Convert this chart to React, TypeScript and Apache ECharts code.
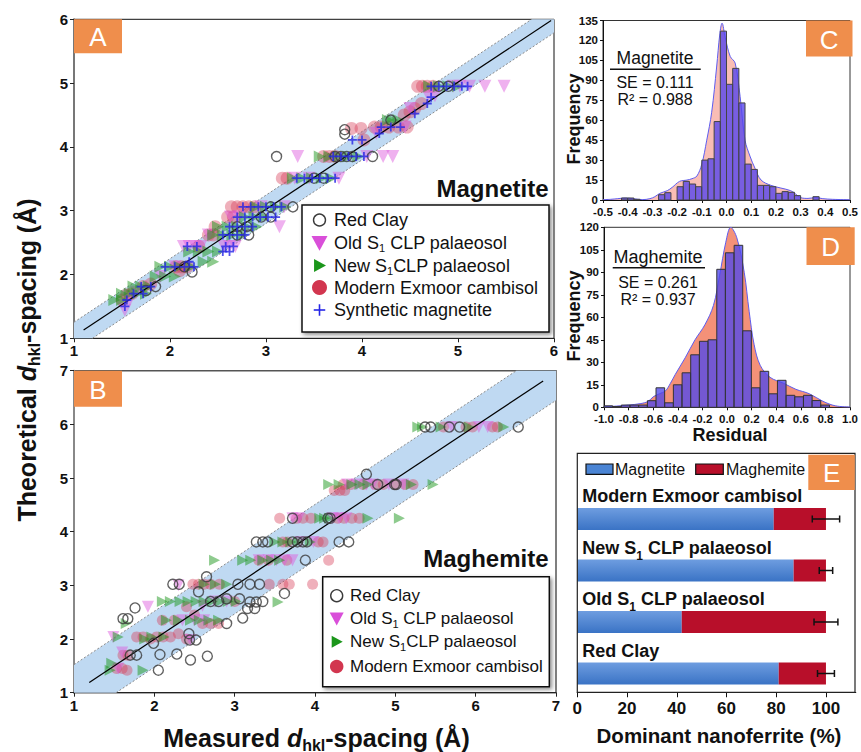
import { useEffect, useRef } from 'react';
import * as echarts from 'echarts';

const FONT = '"Liberation Sans", Arial, Helvetica, sans-serif';

// ---------- Panel A: magnetite, theoretical vs measured d-spacing (Å) ----------
const magModern: number[][] = [
  [4.58, 4.95], [4.63, 4.95], [4.68, 4.95], [4.74, 4.95], [4.62, 4.68], [4.55, 4.6], [4.44, 4.5], [4.5, 4.55],
  [4.13, 4.31], [4.2, 4.31], [4.28, 4.31], [4.38, 4.31], [4.47, 4.31], [3.89, 4.29], [3.99, 4.29], [4.02, 4.11],
  [3.6, 3.85], [3.66, 3.85], [3.72, 3.85], [3.17, 3.51], [3.22, 3.51], [2.64, 3.06], [2.7, 3.06], [2.76, 3.06],
  [2.82, 3.06], [2.88, 3.06], [2.6, 2.9], [2.66, 2.9], [2.47, 2.75], [2.4, 2.62], [2.45, 2.62], [2.3, 2.44],
  [2.06, 2.12], [2.12, 2.12], [2.18, 2.12], [2.1, 2.06], [1.72, 1.81], [1.8, 1.85], [1.55, 1.68], [1.6, 1.7], [1.5, 1.6],
];
const magOldS1: number[][] = [
  [4.95, 4.95], [5.02, 4.95], [5.12, 4.95], [5.28, 4.95], [5.48, 4.95], [4.69, 4.8], [4.76, 4.8], [4.5, 4.6],
  [4.15, 4.21], [4.45, 4.31], [3.33, 3.85], [4.05, 3.85], [4.22, 3.85], [4.32, 3.85], [3.3, 3.51], [3.45, 3.51],
  [3.76, 3.51], [2.95, 3.06], [3.19, 3.06], [2.63, 2.9], [2.72, 2.9], [3.14, 2.75], [2.14, 2.44], [2.2, 2.44],
  [2.26, 2.44], [2.32, 2.44], [2.56, 2.44], [2.62, 2.44], [2.68, 2.44], [2.4, 2.62], [1.9, 1.97], [2.05, 2.12],
  [1.65, 1.72], [1.58, 1.6], [1.53, 1.44],
];
const magNewS1: number[][] = [
  [4.7, 4.95], [4.8, 4.95], [4.9, 4.95], [5.0, 4.95], [4.27, 4.42], [4.32, 4.42], [4.38, 4.42], [3.56, 3.85],
  [3.66, 3.85], [3.76, 3.85], [3.86, 3.85], [3.96, 3.85], [3.28, 3.51], [3.38, 3.51], [3.48, 3.51], [3.58, 3.51],
  [3.68, 3.51], [2.9, 3.06], [3.0, 3.06], [3.1, 3.06], [3.2, 3.06], [2.78, 2.9], [2.88, 2.9], [2.98, 2.9],
  [2.5, 2.75], [2.6, 2.75], [2.7, 2.75], [2.8, 2.75], [2.9, 2.75], [2.45, 2.62], [2.55, 2.62], [2.65, 2.62],
  [2.75, 2.62], [2.2, 2.36], [2.3, 2.36], [2.4, 2.36], [2.5, 2.36], [2.35, 2.2], [2.45, 2.2], [1.9, 2.12],
  [2.0, 2.12], [2.1, 2.12], [2.22, 2.12], [1.85, 1.97], [1.95, 1.97], [2.05, 1.97], [1.62, 1.81], [1.7, 1.81],
  [1.78, 1.81], [1.5, 1.7], [1.58, 1.7], [1.66, 1.7], [1.75, 1.7], [1.42, 1.6], [1.5, 1.6],
];
const magRedClay: number[][] = [
  [3.11, 3.85], [3.82, 4.27], [3.82, 4.2], [4.11, 3.85], [3.72, 3.85], [3.78, 3.85], [3.84, 3.85], [3.9, 3.85],
  [3.28, 3.06], [3.05, 3.06], [2.95, 2.9], [3.05, 2.9], [2.7, 2.75], [2.8, 2.75], [2.82, 2.62], [2.7, 2.62],
  [2.23, 2.04], [2.15, 2.12], [1.75, 1.75], [1.85, 1.81], [4.8, 4.95], [4.9, 4.95], [4.3, 4.42], [3.5, 3.51], [3.6, 3.51],
];
const magSynthetic: number[][] = [
  [4.72, 4.95], [4.8, 4.95], [4.88, 4.95], [4.96, 4.95], [5.04, 4.95], [5.1, 4.95], [4.72, 4.78], [4.68, 4.68],
  [4.55, 4.52], [4.2, 4.31], [4.3, 4.31], [4.4, 4.31], [4.18, 4.21], [3.9, 4.11], [4.0, 4.11], [3.7, 3.85],
  [3.78, 3.85], [3.86, 3.85], [3.94, 3.85], [4.02, 3.85], [3.32, 3.51], [3.4, 3.51], [3.48, 3.51], [3.56, 3.51],
  [3.64, 3.51], [3.72, 3.51], [2.76, 3.06], [2.84, 3.06], [2.92, 3.06], [3.0, 3.06], [3.08, 3.06], [3.16, 3.06],
  [2.7, 2.9], [2.78, 2.9], [2.86, 2.9], [2.94, 2.9], [3.02, 2.9], [3.1, 2.9], [2.62, 2.75], [2.7, 2.75],
  [2.78, 2.75], [2.86, 2.75], [2.55, 2.62], [2.62, 2.62], [2.7, 2.62], [2.78, 2.62], [2.18, 2.44], [2.28, 2.44],
  [2.58, 2.44], [2.66, 2.44], [2.55, 2.36], [2.62, 2.36], [1.95, 2.12], [2.05, 2.12], [2.15, 2.12], [2.25, 2.12],
  [2.2, 2.2], [1.7, 1.81], [1.8, 1.81], [1.62, 1.7], [1.72, 1.7], [1.55, 1.6], [1.53, 1.5],
];
const fitA = [[1.1, 1.13], [5.97, 5.98]];
const seA = 0.111;
const r2A = 0.988;

// ---------- Panel B: maghemite ----------
const maghModern: number[][] = [
  [1.53, 1.45], [1.6, 1.45], [1.66, 1.42], [1.61, 1.7], [1.67, 1.7], [1.78, 2.04], [1.86, 2.04], [1.95, 2.0],
  [2.03, 2.04], [2.11, 2.04], [2.2, 2.04], [2.3, 2.1], [2.4, 2.0], [2.1, 2.35], [2.25, 2.35], [2.6, 2.29],
  [2.7, 2.29], [2.8, 2.29], [2.5, 2.45], [2.4, 2.6], [2.48, 3.02], [2.55, 3.02], [2.62, 3.02], [2.7, 3.02],
  [2.81, 3.02], [3.0, 2.7], [3.43, 3.02], [3.6, 3.02], [3.68, 3.02], [3.97, 3.02], [3.3, 3.47], [3.42, 3.47],
  [3.65, 3.47], [4.17, 3.47], [3.6, 3.81], [3.66, 3.81], [4.04, 3.81], [4.1, 3.81], [3.56, 4.25], [3.77, 4.25],
  [3.85, 4.25], [3.95, 4.25], [4.28, 4.25], [4.36, 4.25], [4.46, 4.25], [4.55, 4.25], [4.24, 4.77], [4.31, 4.77],
  [4.37, 4.77], [4.35, 4.88], [4.45, 4.88], [4.6, 4.88], [4.75, 4.88], [4.85, 4.88], [5.0, 4.88], [5.12, 4.88],
  [5.22, 4.88], [5.6, 5.95], [5.88, 5.95], [5.96, 5.95], [6.21, 5.95], [6.27, 5.95],
];
const maghOldS1: number[][] = [
  [1.49, 2.04], [1.55, 1.45], [1.6, 1.75], [1.92, 2.6], [2.45, 1.98], [2.35, 2.35], [2.5, 2.35], [2.62, 2.35],
  [2.3, 3.0], [2.75, 2.7], [2.9, 2.7], [2.6, 2.62], [3.3, 3.47], [3.42, 3.47], [3.52, 3.47], [3.62, 3.47],
  [3.72, 3.47], [3.82, 3.81], [3.98, 3.81], [3.72, 4.25], [3.8, 4.25], [4.22, 4.25], [4.3, 4.25], [4.39, 4.25],
  [4.4, 4.88], [4.52, 4.88], [4.64, 4.88], [4.72, 4.88], [4.92, 4.88], [5.1, 4.88], [5.7, 5.95], [6.04, 5.95], [6.15, 5.95],
];
const maghNewS1: number[][] = [
  [1.45, 1.42], [1.47, 1.55], [1.86, 1.42], [1.55, 2.04], [1.65, 2.29], [1.88, 2.0], [1.97, 2.04], [2.12, 2.04],
  [2.1, 2.7], [2.2, 2.7], [2.32, 2.7], [2.42, 2.7], [2.52, 2.7], [2.62, 2.7], [2.72, 2.7], [2.82, 2.7],
  [2.92, 2.7], [3.02, 2.7], [3.54, 2.69], [2.15, 2.35], [2.3, 2.35], [2.45, 2.35], [2.56, 2.35], [2.68, 2.35],
  [2.8, 2.35], [2.62, 3.02], [2.76, 3.02], [2.9, 3.02], [2.75, 3.47], [3.1, 3.47], [3.2, 3.47], [3.35, 3.47],
  [3.46, 3.47], [3.56, 3.47], [3.5, 3.81], [3.6, 3.81], [3.7, 3.81], [3.8, 3.81], [3.94, 3.81], [4.06, 4.25],
  [4.12, 4.25], [4.18, 4.25], [4.66, 4.25], [5.05, 4.25], [4.17, 4.88], [4.3, 4.88], [4.46, 4.88], [4.56, 4.88],
  [4.66, 4.88], [5.2, 4.88], [5.47, 4.88], [5.28, 5.95], [5.34, 5.95], [5.57, 5.95], [5.92, 5.95], [6.35, 5.95],
];
const maghRedClay: number[][] = [
  [1.61, 2.38], [1.67, 2.38], [1.76, 2.58], [1.7, 1.7], [1.78, 1.7], [2.07, 1.71], [2.28, 1.72], [2.45, 1.61],
  [2.66, 1.68], [2.05, 1.42], [1.99, 1.92], [2.44, 1.98], [2.52, 1.98], [2.43, 2.1], [2.23, 3.02], [2.31, 3.02],
  [2.65, 3.16], [2.9, 2.29], [3.1, 2.39], [3.16, 2.57], [3.25, 2.57], [3.06, 2.75], [3.35, 2.7], [3.04, 3.02],
  [3.19, 3.02], [3.31, 3.02], [3.62, 2.85], [2.55, 2.88], [2.7, 2.7], [2.8, 2.7], [2.9, 2.75], [3.19, 2.69],
  [3.27, 2.69], [3.27, 3.81], [3.35, 3.81], [3.41, 3.81], [3.72, 3.81], [3.78, 3.81], [3.85, 3.81], [3.9, 3.81],
  [4.3, 3.81], [4.42, 3.81], [3.88, 3.47], [3.72, 4.25], [4.16, 4.25], [4.19, 4.25], [4.64, 5.07], [4.78, 4.88],
  [4.99, 4.88], [5.01, 4.88], [5.37, 5.95], [5.44, 5.95], [5.67, 5.95], [5.8, 5.95], [6.53, 5.95],
];
const fitB = [[1.19, 1.19], [6.84, 6.81]];
const seB = 0.261;
const r2B = 0.937;

// ---------- Panel C: magnetite residual histogram (bin width 0.025) ----------
const magResBins = [
  -0.4125, -0.3875, -0.3625, -0.2625, -0.2375, -0.1875, -0.1625, -0.1375, -0.1125, -0.0875, -0.0625, -0.0375,
  -0.0125, 0.0125, 0.0375, 0.0625, 0.0875, 0.1125, 0.1375, 0.1625, 0.1875, 0.2125, 0.2375, 0.2625, 0.2875, 0.3625,
];
const magResCounts = [
  1.5, 1.5, 0.5, 4, 5.5, 10, 14, 12, 10, 30, 31, 59,
  127, 87, 99, 73, 27, 23, 11, 11, 10, 5, 6.3, 5.8, 3.3, 2.5,
];
const magResDensity: number[][] = [
  [-0.5, 0.3], [-0.47, 0.5], [-0.44, 1], [-0.41, 1.5], [-0.38, 1], [-0.34, 0.3], [-0.31, 1], [-0.29, 2.5],
  [-0.27, 5], [-0.24, 7], [-0.22, 9.5], [-0.19, 14], [-0.16, 15], [-0.14, 16], [-0.12, 18], [-0.1, 27],
  [-0.08, 45], [-0.06, 66], [-0.04, 100], [-0.027, 125], [-0.018, 133], [-0.005, 122], [0.015, 108], [0.035, 103],
  [0.055, 78], [0.075, 45], [0.095, 33], [0.115, 24], [0.14, 15], [0.18, 11], [0.22, 9], [0.26, 7],
  [0.28, 4.5], [0.3, 1.8], [0.33, 1.2], [0.36, 1.8], [0.39, 1], [0.43, 0.5], [0.5, 0.2],
];

// ---------- Panel D: maghemite residual histogram (bin width 0.07) ----------
const maghResBins = [
  -0.965, -0.894, -0.824, -0.753, -0.683, -0.612, -0.542, -0.471, -0.401, -0.33, -0.26, -0.189, -0.119,
  -0.048, 0.022, 0.093, 0.163, 0.234, 0.304, 0.375, 0.445, 0.516, 0.586, 0.657, 0.727, 0.798,
];
const maghResCounts = [
  1, 0.5, 1.5, 1.5, 1.5, 4.4, 13, 3, 15, 23, 35, 44, 45,
  92, 103, 108, 51, 13, 24, 9, 18, 8, 7, 8, 4.5, 1.5,
];
const maghResDensity: number[][] = [
  [-1.0, 0.3], [-0.9, 0.8], [-0.8, 1.5], [-0.7, 2.5], [-0.64, 4], [-0.6, 7], [-0.55, 9], [-0.5, 11],
  [-0.46, 16], [-0.42, 22], [-0.34, 33], [-0.26, 45], [-0.18, 55], [-0.11, 68], [-0.06, 88], [-0.01, 110],
  [0.03, 120], [0.08, 113], [0.14, 90], [0.18, 64], [0.22, 42], [0.27, 28], [0.35, 20], [0.46, 16],
  [0.56, 12], [0.67, 9], [0.78, 4], [0.88, 1], [1.0, 0.2],
];

// ---------- Panel E: dominant nanoferrite per soil ----------
const soils = ['Modern Exmoor cambisol', 'New S1 CLP palaeosol', 'Old S1 CLP palaeosol', 'Red Clay'];
const soilLabels = ['Modern Exmoor cambisol', 'New S{s|1} CLP palaeosol', 'Old S{s|1} CLP palaeosol', 'Red Clay'];
const magnetitePct = [79, 87, 42, 81];
const maghemitePct = [21, 13, 58, 19];
const pctError = [5.5, 2.7, 4.8, 3.4];
const pctTicks = [0, 20, 40, 60, 80, 100];

// legend wording (rich text, S1 with subscript)
const legendA = ['Red Clay', 'Old S{s|1} CLP palaeosol', 'New S{s|1}CLP palaeosol', 'Modern Exmoor cambisol', 'Synthetic magnetite'];
const legendB = ['Red Clay', 'Old S{s|1} CLP palaeosol', 'New S{s|1}CLP palaeosol', 'Modern Exmoor cambisol'];

const C = {
  red: 'rgba(214,58,84,0.5)',
  redSolid: '#d2364f',
  magenta: 'rgba(222,92,222,0.6)',
  magentaSolid: '#d94fd9',
  green: 'rgba(26,150,26,0.62)',
  greenSolid: '#1b961b',
  clay: '#3a3a3a',
  blue: '#2626e6',
  band: '#bfd9f2',
  orange: '#ef8e4c',
};
const PLUS = 'path://M4,0H6V4H10V6H6V10H4V6H0V4H4Z';

type Rect = { x: number; y: number; width: number; height: number };

function clipPolygon(points: number[][], r: Rect) {
  const planes = [
    [1, 0, -r.x], [-1, 0, r.x + r.width], [0, 1, -r.y], [0, -1, r.y + r.height],
  ];
  let out = points;
  for (const [a, b, c] of planes) {
    const input = out;
    out = [];
    for (let i = 0; i < input.length; i++) {
      const p = input[i];
      const q = input[(i + 1) % input.length];
      const dp = a * p[0] + b * p[1] + c;
      const dq = a * q[0] + b * q[1] + c;
      if (dp >= 0) out.push(p);
      if ((dp >= 0) !== (dq >= 0)) {
        const t = dp / (dp - dq);
        out.push([p[0] + t * (q[0] - p[0]), p[1] + t * (q[1] - p[1])]);
      }
    }
  }
  return out;
}

function clipSegment(p: number[], q: number[], r: Rect) {
  let t0 = 0;
  let t1 = 1;
  const dx = q[0] - p[0];
  const dy = q[1] - p[1];
  const checks = [
    [-dx, p[0] - r.x], [dx, r.x + r.width - p[0]], [-dy, p[1] - r.y], [dy, r.y + r.height - p[1]],
  ];
  for (const [pp, qq] of checks) {
    if (pp === 0) {
      if (qq < 0) return null;
    } else {
      const t = qq / pp;
      if (pp < 0) t0 = Math.max(t0, t);
      else t1 = Math.min(t1, t);
    }
  }
  if (t0 > t1) return null;
  return [[p[0] + t0 * dx, p[1] + t0 * dy], [p[0] + t1 * dx, p[1] + t1 * dy]];
}

// ±2·SE prediction band around the fitted line
function bandSeries(axis: number, fit: number[][], se: number, xr: number[]) {
  const [[x1, y1], [x2, y2]] = fit;
  const m = (y2 - y1) / (x2 - x1);
  const c = y1 - m * x1;
  const h = 2 * se;
  return {
    type: 'custom',
    xAxisIndex: axis,
    yAxisIndex: axis,
    z: 1,
    silent: true,
    data: [[xr[0], m * xr[0] + c]],
    renderItem: (params: any, api: any) => {
      const cs = params.coordSys;
      const rect = { x: cs.x, y: cs.y, width: cs.width, height: cs.height };
      const lo0 = api.coord([xr[0], m * xr[0] + c - h]);
      const lo1 = api.coord([xr[1], m * xr[1] + c - h]);
      const hi0 = api.coord([xr[0], m * xr[0] + c + h]);
      const hi1 = api.coord([xr[1], m * xr[1] + c + h]);
      const poly = clipPolygon([lo0, lo1, hi1, hi0], rect);
      const children: any[] = [
        { type: 'polygon', shape: { points: poly }, style: { fill: C.band } },
      ];
      for (const seg of [clipSegment(lo0, lo1, rect), clipSegment(hi0, hi1, rect)]) {
        if (seg) {
          children.push({
            type: 'line',
            shape: { x1: seg[0][0], y1: seg[0][1], x2: seg[1][0], y2: seg[1][1] },
            style: { stroke: '#8a8a8a', lineWidth: 1, lineDash: [2, 2] },
          });
        }
      }
      return { type: 'group', children };
    },
  };
}

function histSeries(axis: number, centers: number[], counts: number[], width: number, fill: string, stroke: string) {
  return {
    type: 'custom',
    xAxisIndex: axis,
    yAxisIndex: axis,
    z: 3,
    data: centers.map((x, i) => [x, counts[i]]),
    encode: { x: 0, y: 1 },
    renderItem: (_p: any, api: any) => {
      const x = api.value(0);
      const v = api.value(1);
      const a = api.coord([x - width / 2, 0]);
      const b = api.coord([x + width / 2, v]);
      return {
        type: 'rect',
        shape: { x: a[0], y: b[1], width: b[0] - a[0], height: a[1] - b[1] },
        style: { fill, stroke, lineWidth: 1 },
      };
    },
  };
}

function densitySeries(axis: number, pts: number[][], fill: string) {
  return {
    type: 'line',
    xAxisIndex: axis,
    yAxisIndex: axis,
    z: 2,
    smooth: 0.35,
    showSymbol: false,
    silent: true,
    data: pts,
    lineStyle: { color: '#5c5cf0', width: 1 },
    areaStyle: { color: fill, opacity: 1 },
  };
}

function fitSeries(axis: number, fit: number[][]) {
  return {
    type: 'line',
    xAxisIndex: axis,
    yAxisIndex: axis,
    z: 4,
    showSymbol: false,
    silent: true,
    data: fit,
    lineStyle: { color: '#000', width: 1.2 },
  };
}

function scatter(axis: number, name: string, data: number[][], kind: string, size: number) {
  const base: any = {
    type: 'scatter',
    name,
    xAxisIndex: axis,
    yAxisIndex: axis,
    data,
    symbolSize: size,
    silent: true,
    z: 3,
  };
  if (kind === 'open') {
    base.symbol = 'circle';
    base.itemStyle = { color: 'rgba(0,0,0,0)', borderColor: C.clay, borderWidth: 1.4 };
    base.z = 5;
  } else if (kind === 'down') {
    base.symbol = 'triangle';
    base.symbolRotate = 180;
    base.itemStyle = { color: C.magenta };
  } else if (kind === 'right') {
    base.symbol = 'triangle';
    base.symbolRotate = -90;
    base.itemStyle = { color: C.green };
  } else if (kind === 'dot') {
    base.symbol = 'circle';
    base.itemStyle = { color: C.red };
  } else {
    base.symbol = PLUS;
    base.itemStyle = { color: C.blue };
    base.z = 6;
  }
  return base;
}

function scatterAxes(idx: number, max: number, frameColor: string) {
  const lbl = { fontSize: 15, fontWeight: 'bold', color: '#111', fontFamily: FONT };
  return {
    x: {
      type: 'value', gridIndex: idx, min: 1, max, interval: 1,
      axisLine: { show: true, onZero: false, lineStyle: { color: '#222', width: 1 } },
      axisTick: { show: true, length: 4, lineStyle: { color: '#222' } },
      axisLabel: { ...lbl, margin: 5 },
      splitLine: { show: false },
    },
    y: {
      type: 'value', gridIndex: idx, min: 1, max, interval: 1,
      axisLine: { show: true, onZero: false, lineStyle: { color: frameColor, width: 2 } },
      axisTick: { show: true, length: 4, lineStyle: { color: '#222' } },
      axisLabel: { ...lbl, margin: 6 },
      splitLine: { show: false },
    },
  };
}

function histAxes(idx: number, xmin: number, xmax: number, xint: number, ymax: number) {
  const lbl = { fontSize: 11.5, fontWeight: 'bold', color: '#111', fontFamily: FONT };
  return {
    x: {
      type: 'value', gridIndex: idx, min: xmin, max: xmax, interval: xint,
      axisLine: { show: true, onZero: false, lineStyle: { color: '#111', width: 1 } },
      axisTick: { show: true, length: 3, lineStyle: { color: '#111' } },
      axisLabel: { ...lbl, margin: 6, lineHeight: 12, formatter: (v: number) => v.toFixed(1) },
      splitLine: { show: false },
    },
    y: {
      type: 'value', gridIndex: idx, min: 0, max: ymax, interval: 15,
      axisLine: { show: true, onZero: false, lineStyle: { color: '#111', width: 1 } },
      axisTick: { show: true, length: 3, lineStyle: { color: '#111' } },
      axisLabel: { ...lbl, margin: 5, lineHeight: 11 },
      splitLine: { show: false },
    },
  };
}

// ---- graphic helpers ----
function legendSymbol(kind: string, cx: number, cy: number, s: number): any {
  const z = 21;
  if (kind === 'open') {
    return { type: 'circle', z, shape: { cx, cy, r: s / 2 }, style: { fill: 'none', stroke: C.clay, lineWidth: 1.4 } };
  }
  if (kind === 'down') {
    return {
      type: 'polygon', z,
      shape: { points: [[cx - s / 2, cy - s * 0.42], [cx + s / 2, cy - s * 0.42], [cx, cy + s * 0.5]] },
      style: { fill: C.magentaSolid },
    };
  }
  if (kind === 'right') {
    return {
      type: 'polygon', z,
      shape: { points: [[cx - s * 0.42, cy - s / 2], [cx - s * 0.42, cy + s / 2], [cx + s * 0.5, cy]] },
      style: { fill: C.greenSolid },
    };
  }
  if (kind === 'dot') {
    return { type: 'circle', z, shape: { cx, cy, r: s / 2 }, style: { fill: C.redSolid } };
  }
  const t = 1.6;
  return {
    type: 'group', z,
    children: [
      { type: 'rect', z, shape: { x: cx - s / 2, y: cy - t / 2, width: s, height: t }, style: { fill: C.blue } },
      { type: 'rect', z, shape: { x: cx - t / 2, y: cy - s / 2, width: t, height: s }, style: { fill: C.blue } },
    ],
  };
}

function legendBox(
  box: Rect, names: string[], kinds: string[], sizes: number[], symX: number, textX: number, rows: number[], fontSize: number,
): any[] {
  const els: any[] = [
    {
      type: 'rect', z: 20, shape: box,
      style: {
        fill: '#fff', stroke: '#111', lineWidth: 1.5,
        shadowBlur: 4, shadowColor: 'rgba(0,0,0,0.45)', shadowOffsetX: 2, shadowOffsetY: 2,
      },
    },
  ];
  names.forEach((n, i) => {
    els.push(legendSymbol(kinds[i], symX, rows[i], sizes[i]));
    els.push({
      type: 'text', z: 21, x: textX, y: rows[i],
      style: {
        text: n, fontSize, fontFamily: FONT, fill: '#111', align: 'left', verticalAlign: 'middle', lineHeight: 22,
        rich: { s: { fontSize: Math.round(fontSize * 0.62), fontFamily: FONT, fill: '#111', lineHeight: 7, verticalAlign: 'bottom' } },
      },
    });
  });
  return els;
}

function panelTag(letter: string, x: number, y: number, w: number, h: number): any[] {
  return [
    { type: 'rect', z: 30, shape: { x, y, width: w, height: h }, style: { fill: C.orange } },
    {
      type: 'text', z: 31, x: x + w / 2, y: y + h / 2 + 1,
      style: { text: letter, fontSize: 26, fontFamily: FONT, fill: '#fff', align: 'center', verticalAlign: 'middle' },
    },
  ];
}

function plainText(text: string, x: number, y: number, size: number, weight: string, align = 'center', rotation = 0): any {
  return {
    type: 'text', z: 25, x, y, rotation,
    style: { text, fontSize: size, fontWeight: weight, fontFamily: FONT, fill: '#111', align, verticalAlign: 'middle' },
  };
}

function dTitle(x: number, y: number, rotation: number, lead: string): any {
  const b = { fontSize: 25, fontWeight: 'bold', fontFamily: FONT, fill: '#111', lineHeight: 30, verticalAlign: 'middle' };
  return {
    type: 'text', z: 25, x, y, rotation,
    style: {
      text: `{b|${lead} }{i|d}{s|hkl}{b|-spacing (Å)}`,
      align: 'center', verticalAlign: 'middle',
      rich: {
        b,
        i: { ...b, fontStyle: 'italic' },
        s: { fontSize: 16, fontWeight: 'bold', fontFamily: FONT, fill: '#111', lineHeight: 13, verticalAlign: 'bottom' },
      },
    },
  };
}

function statBlock(title: string, se: number, r2: number, cx: number, titleY: number, lineX: number[], lineY: number, seY: number, r2Y: number, titleSize: number): any[] {
  return [
    plainText(title, cx, titleY, titleSize, 'normal'),
    { type: 'line', z: 25, shape: { x1: lineX[0], y1: lineY, x2: lineX[1], y2: lineY }, style: { stroke: '#111', lineWidth: 1.5 } },
    plainText(`SE = ${se.toFixed(3)}`, cx, seY, 16, 'normal'),
    plainText(`R² = ${r2.toFixed(3)}`, cx, r2Y, 16, 'normal'),
  ];
}

function buildOption(): any {
  const aAx = scatterAxes(0, 6, '#777');
  const bAx = scatterAxes(1, 7, '#888');
  const cAx = histAxes(2, -0.5, 0.5, 0.1, 135);
  const dAx = histAxes(3, -1, 1, 0.2, 120);

  const eX = {
    type: 'value', gridIndex: 4, min: 0, max: 112, interval: 20, offset: -7,
    axisLine: { show: true, onZero: false, lineStyle: { color: '#111', width: 1 } },
    axisTick: { show: true, length: 5, lineStyle: { color: '#111' }, customValues: pctTicks },
    axisLabel: { fontSize: 17, fontWeight: 'bold', color: '#111', fontFamily: FONT, margin: 8, customValues: pctTicks },
    splitLine: { show: false },
  };
  const eY = {
    type: 'category', gridIndex: 4, data: soils, inverse: true,
    axisLine: { show: false }, axisTick: { show: false }, axisLabel: { show: false },
  };

  const kindsA = ['open', 'down', 'right', 'dot', 'plus'];

  const graphic: any[] = [
    ...panelTag('A', 74, 19.3, 48, 34),
    ...panelTag('B', 74, 370.7, 48, 36),
    ...panelTag('C', 806, 20.5, 46.5, 36),
    ...panelTag('D', 806.5, 227.3, 48.2, 37.7),
    ...panelTag('E', 808.3, 454.8, 46.5, 35.2),
    plainText('Magnetite', 548.5, 188.5, 24, 'bold', 'right'),
    plainText('Maghemite', 548.5, 558.5, 24, 'bold', 'right'),
    ...legendBox({ x: 302, y: 205, width: 247, height: 127 }, legendA, kindsA, [12, 16, 13, 15, 11.5], 319.5, 334,
      [220, 242.7, 265.5, 287.5, 310], 18),
    ...legendBox({ x: 322.7, y: 576.7, width: 226.6, height: 110 }, legendB, kindsA, [12, 14, 12, 13.5], 336.7, 350,
      [595.7, 618.5, 641.7, 666.5], 17),
    dTitle(27, 360, Math.PI / 2, 'Theoretical'),
    dTitle(316.5, 738, 0, 'Measured'),
    ...statBlock('Magnetite', seA, r2A, 655, 58.3, [610, 700.7], 69.3, 82.7, 99.3, 17.5),
    ...statBlock('Maghemite', seB, r2B, 658, 256.7, [612.7, 705], 267.7, 282.3, 299, 18),
    plainText('Frequency', 573.5, 119, 18, 'bold', 'center', Math.PI / 2),
    plainText('Frequency', 573.5, 316, 18, 'bold', 'center', Math.PI / 2),
    plainText('Residual', 730, 435, 18, 'bold'),
    plainText('Dominant nanoferrite (%)', 719, 735.5, 20.5, 'bold'),
    { type: 'rect', z: 8, shape: { x: 577.3, y: 453.3, width: 277.7, height: 239 }, style: { fill: 'none', stroke: '#222', lineWidth: 1.2 } },
    { type: 'rect', z: 25, shape: { x: 586, y: 464, width: 27, height: 10.3 }, style: { fill: '#4a84d4', stroke: '#111', lineWidth: 1.2 } },
    plainText('Magnetite', 615, 469.5, 16, 'normal', 'left'),
    { type: 'rect', z: 25, shape: { x: 695.7, y: 464, width: 27.6, height: 10.3 }, style: { fill: '#b80f2a', stroke: '#111', lineWidth: 1.2 } },
    plainText('Maghemite', 726, 469.5, 16, 'normal', 'left'),
  ];

  return {
    animation: false,
    backgroundColor: '#fff',
    textStyle: { fontFamily: FONT },
    grid: [
      { left: 74, top: 19.3, width: 480, height: 319, show: true, borderColor: '#111', borderWidth: 1, backgroundColor: 'transparent' },
      { left: 74, top: 370.7, width: 482, height: 322, show: true, borderColor: '#555', borderWidth: 1.5, backgroundColor: 'transparent' },
      { left: 603, top: 20.5, width: 249.5, height: 179.5, show: true, borderColor: '#333', borderWidth: 1, backgroundColor: 'transparent' },
      { left: 604, top: 227.3, width: 250.7, height: 180, show: true, borderColor: '#333', borderWidth: 1, backgroundColor: 'transparent' },
      { left: 577.3, top: 493.25, width: 278.5, height: 206 },
    ],
    xAxis: [aAx.x, bAx.x, cAx.x, dAx.x, eX],
    yAxis: [aAx.y, bAx.y, cAx.y, dAx.y, eY],
    graphic,
    series: [
      bandSeries(0, fitA, seA, [1, 6]),
      scatter(0, 'Modern Exmoor cambisol', magModern, 'dot', 13),
      scatter(0, 'Old S1 CLP palaeosol', magOldS1, 'down', 13),
      scatter(0, 'New S1CLP palaeosol', magNewS1, 'right', 12),
      fitSeries(0, fitA),
      scatter(0, 'Red Clay', magRedClay, 'open', 10),
      scatter(0, 'Synthetic magnetite', magSynthetic, 'plus', 9),

      bandSeries(1, fitB, seB, [1, 7]),
      scatter(1, 'Modern Exmoor cambisol', maghModern, 'dot', 11),
      scatter(1, 'Old S1 CLP palaeosol', maghOldS1, 'down', 12),
      scatter(1, 'New S1CLP palaeosol', maghNewS1, 'right', 11),
      fitSeries(1, fitB),
      scatter(1, 'Red Clay', maghRedClay, 'open', 10),

      densitySeries(2, magResDensity, '#f9bdb5'),
      histSeries(2, magResBins, magResCounts, 0.025, 'rgba(88,70,236,0.8)', '#444'),
      densitySeries(3, maghResDensity, '#f49178'),
      histSeries(3, maghResBins, maghResCounts, 0.07, 'rgba(80,72,236,0.78)', '#333'),

      {
        type: 'bar', name: 'Magnetite', xAxisIndex: 4, yAxisIndex: 4, stack: 'share', barWidth: 22, z: 3,
        data: magnetitePct,
        itemStyle: {
          color: {
            type: 'linear', x: 0, y: 0, x2: 0, y2: 1,
            colorStops: [{ offset: 0, color: '#6e9de0' }, { offset: 1, color: '#3a73c5' }],
          },
        },
        label: {
          show: true, position: [5, -12], align: 'left', verticalAlign: 'middle',
          formatter: (p: any) => soilLabels[p.dataIndex],
          fontSize: 18, fontWeight: 'bold', color: '#111', fontFamily: FONT, lineHeight: 28,
          rich: { s: { fontSize: 12, fontWeight: 'bold', color: '#111', fontFamily: FONT, lineHeight: 4, verticalAlign: 'bottom' } },
        },
      },
      {
        type: 'bar', name: 'Maghemite', xAxisIndex: 4, yAxisIndex: 4, stack: 'share', barWidth: 22, z: 3,
        data: maghemitePct,
        itemStyle: { color: '#b80f2a' },
      },
      {
        type: 'custom', xAxisIndex: 4, yAxisIndex: 4, z: 6,
        data: soils.map((_, i) => [i, magnetitePct[i] + maghemitePct[i], pctError[i]]),
        encode: { y: 0, x: 1 },
        renderItem: (_p: any, api: any) => {
          const i = api.value(0);
          const t = api.value(1);
          const e = api.value(2);
          const a = api.coord([t - e, i]);
          const b = api.coord([t + e, i]);
          const st = { stroke: '#111', lineWidth: 1.5 };
          return {
            type: 'group',
            children: [
              { type: 'line', shape: { x1: a[0], y1: a[1], x2: b[0], y2: b[1] }, style: st },
              { type: 'line', shape: { x1: a[0], y1: a[1] - 3.5, x2: a[0], y2: a[1] + 3.5 }, style: st },
              { type: 'line', shape: { x1: b[0], y1: b[1] - 3.5, x2: b[0], y2: b[1] + 3.5 }, style: st },
            ],
          };
        },
      },
    ],
  };
}

export default function App() {
  const ref = useRef<HTMLDivElement>(null);
  useEffect(() => {
    const chart = echarts.init(ref.current!, undefined, { renderer: 'svg' });
    chart.setOption(buildOption());
    return () => chart.dispose();
  }, []);
  return <div ref={ref} style={{ position: 'absolute', left: 0, top: 0, width: 861, height: 752 }} />;
}
